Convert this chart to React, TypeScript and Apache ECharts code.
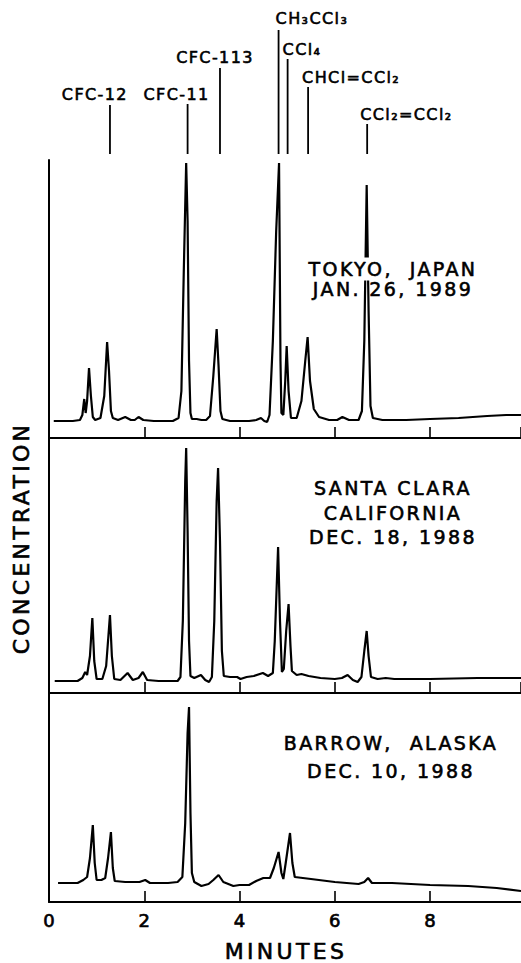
import React, { useEffect, useRef } from "react";
import * as echarts from "echarts";

// ---------- data ----------
const compoundNames = ["CFC-12", "CFC-11", "CFC-113", "CH₃CCl₃", "CCl₄", "CHCl=CCl₂", "CCl₂=CCl₂"];
const compoundTimes = [1.28, 2.91, 3.59, 4.82, 5.01, 5.44, 6.68];

const tokyoLabel = ["TOKYO,  JAPAN", "JAN. 26, 1989"];
const santaClaraLabel = ["SANTA CLARA", "CALIFORNIA", "DEC. 18, 1988"];
const barrowLabel = ["BARROW,  ALASKA", "DEC. 10, 1988"];

const xTitle = "MINUTES";
const yTitle = "CONCENTRATION";
const xMin = 0;
const xMax = 9.91;
const xTickStep = 2;

// [minutes, signal] (signal in arbitrary units above the baseline)
const tokyoTrace: [number, number][] = [
  [0.1, 0], [0.5, 0], [0.65, 1], [0.7, 6], [0.74, 22], [0.77, 8], [0.8, 20], [0.84, 53], [0.88, 25],
  [0.92, 4], [0.97, 1], [1.08, 3], [1.16, 25], [1.22, 79], [1.26, 50], [1.3, 10], [1.34, 3], [1.45, 1],
  [1.6, 4], [1.72, 1], [1.8, 1], [1.88, 4], [1.98, 1], [2.2, 0], [2.6, 0], [2.72, 3], [2.78, 30],
  [2.83, 150], [2.88, 258], [2.91, 200], [2.94, 60], [2.97, 8], [3.0, 2], [3.1, 2], [3.2, 1], [3.3, 1],
  [3.38, 5], [3.45, 45], [3.52, 92], [3.56, 55], [3.6, 10], [3.64, 2], [3.8, 0], [4.2, 0], [4.35, 1],
  [4.45, 3], [4.52, 0], [4.58, -1], [4.63, 6], [4.7, 80], [4.77, 190], [4.83, 258], [4.86, 60],
  [4.88, 8], [4.92, 6], [4.96, 40], [4.99, 75], [5.03, 30], [5.08, 3], [5.2, 3], [5.3, 20], [5.38, 60],
  [5.43, 84], [5.48, 40], [5.56, 12], [5.67, 4], [5.88, 1], [6.05, 1], [6.16, 4], [6.3, 1], [6.5, 1],
  [6.57, 10], [6.62, 80], [6.67, 236], [6.71, 110], [6.75, 15], [6.8, 3], [7.0, 1], [7.5, 1], [8.0, 2],
  [8.6, 3], [9.2, 5], [9.6, 6], [9.91, 6],
];

const santaClaraTrace: [number, number][] = [
  [0.12, 0], [0.6, 0], [0.7, 3], [0.76, 9], [0.8, 6], [0.86, 25], [0.91, 63], [0.95, 20], [1.0, 2],
  [1.12, 2], [1.2, 15], [1.28, 66], [1.32, 25], [1.37, 2], [1.5, 1], [1.65, 8], [1.76, 1], [1.88, 3],
  [1.97, 9], [2.06, 1], [2.3, 0], [2.7, 0], [2.76, 4], [2.81, 60], [2.86, 200], [2.88, 233], [2.91, 150],
  [2.94, 40], [2.97, 5], [3.05, 3], [3.19, 6], [3.28, 1], [3.36, -1], [3.42, 4], [3.47, 60], [3.52, 180],
  [3.55, 213], [3.59, 140], [3.63, 30], [3.67, 5], [3.8, 4], [3.95, 4], [4.02, 2], [4.15, 4], [4.3, 5],
  [4.49, 8], [4.6, 5], [4.7, 8], [4.74, 40], [4.81, 134], [4.85, 60], [4.89, 9], [4.93, 12], [4.98, 50],
  [5.03, 77], [5.07, 35], [5.1, 10], [5.2, 6], [5.3, 7], [5.45, 5], [5.7, 3], [6.0, 2], [6.15, 3],
  [6.27, 6], [6.38, 1], [6.48, -1], [6.56, 4], [6.62, 30], [6.67, 50], [6.71, 25], [6.76, 4], [6.9, 2],
  [7.07, 3], [7.25, 2], [8.0, 2], [9.0, 3], [9.91, 3],
];

const barrowTrace: [number, number][] = [
  [0.19, 0], [0.6, 0], [0.72, 3], [0.8, 6], [0.86, 25], [0.92, 58], [0.96, 20], [1.0, 3], [1.1, 3],
  [1.18, 5], [1.24, 25], [1.3, 51], [1.34, 15], [1.38, 2], [1.6, 1], [1.9, 1], [2.02, 3], [2.12, 0],
  [2.5, 0], [2.7, 1], [2.8, 6], [2.86, 60], [2.91, 150], [2.94, 176], [2.97, 70], [3.0, 10], [3.05, 1],
  [3.2, -3], [3.35, -1], [3.45, 3], [3.56, 8], [3.66, 1], [3.87, -3], [4.0, -2], [4.2, -2], [4.35, 2],
  [4.5, 5], [4.64, 5], [4.72, 15], [4.82, 31], [4.88, 10], [4.92, 4], [4.97, 20], [5.06, 50], [5.11, 20],
  [5.16, 6], [5.5, 4], [6.0, 1], [6.5, -1], [6.62, 1], [6.7, 5], [6.78, 0], [7.2, 0], [8.0, -2],
  [8.8, -3], [9.4, -5], [9.91, -8],
];

const traces = [tokyoTrace, santaClaraTrace, barrowTrace];
const panelLabels = [tokyoLabel, santaClaraLabel, barrowLabel];

// ---------- layout ----------
const W = 521;
const H = 963;
const FONT = "'DejaVu Sans', 'Liberation Sans', sans-serif";
const panels = [
  { top: 160, height: 278, yMin: -17, yMax: 261 },
  { top: 438, height: 255, yMin: -12, yMax: 243 },
  { top: 693, height: 209, yMin: -19, yMax: 190 },
];
const leaderTops = [105, 104, 68, 30, 59, 87, 124];
const leaderBottom = 154;
const compoundTextPlace = [
  { dx: 18, y: 94, align: "right" },
  { dx: 22, y: 94, align: "right" },
  { dx: -5, y: 57, align: "center" },
  { dx: -3, y: 18, align: "left" },
  { dx: -5, y: 49, align: "left" },
  { dx: -6, y: 77, align: "left" },
  { dx: -7, y: 114, align: "left" },
];
const panelLabelPlace = [
  { x: 393, ys: [269, 289] },
  { x: 393, ys: [488, 513, 537] },
  { x: 391, ys: [743, 771] },
];

const css = `
.chromchart text[style*="22px"]{letter-spacing:3.3px}
.chromchart text[style*="19px"]{letter-spacing:2.4px}
.chromchart text[style*="16px"]{letter-spacing:1.4px}
`;

function txt(text: string, x: number, y: number, size: number, align: string, extra: any = {}) {
  const { style: extraStyle, ...rest } = extra;
  return {
    type: "text",
    x,
    y,
    z: 100,
    silent: true,
    ...rest,
    style: {
      text,
      fill: "#000",
      fontSize: size,
      fontFamily: FONT,
      fontWeight: "normal",
      stroke: "#000",
      lineWidth: 0.6,
      align,
      textAlign: align,
      verticalAlign: "middle",
      textVerticalAlign: "middle",
      ...(extraStyle || {}),
    },
  };
}

export default function App() {
  const ref = useRef<HTMLDivElement>(null);

  useEffect(() => {
    document.body.style.margin = "0";
    if (!ref.current) return;
    const chart = echarts.init(ref.current, null, { renderer: "svg" });

    const grid = panels.map((p) => ({ left: 49, right: 0, top: p.top, height: p.height }));
    const xAxis = panels.map((_, i) => ({
      type: "value",
      gridIndex: i,
      min: xMin,
      max: xMax,
      interval: xTickStep,
      axisLine: { show: true, onZero: false, lineStyle: { color: "#000", width: 2 } },
      axisTick: { show: true, inside: true, length: 11, lineStyle: { color: "#000", width: 1.6 } },
      axisLabel: {
        show: i === 2,
        showMaxLabel: false,
        color: "#000",
        fontSize: 18,
        fontFamily: FONT,
        textBorderColor: "#000",
        textBorderWidth: 0.7,
        margin: 9,
      },
      splitLine: { show: false },
    }));
    const yAxis = panels.map((p, i) => ({
      type: "value",
      gridIndex: i,
      min: p.yMin,
      max: p.yMax,
      axisLine: { show: true, onZero: false, lineStyle: { color: "#000", width: 2 } },
      axisTick: { show: false },
      axisLabel: { show: false },
      splitLine: { show: false },
    }));
    const series = traces.map((t, i) => ({
      type: "line",
      xAxisIndex: i,
      yAxisIndex: i,
      data: t,
      symbol: "none",
      showSymbol: false,
      silent: true,
      clip: true,
      lineStyle: { color: "#000", width: 2.2 },
    }));

    chart.setOption({ animation: false, backgroundColor: "#fff", grid, xAxis, yAxis, series });

    const graphic: any[] = [];
    compoundTimes.forEach((t, i) => {
      const px = chart.convertToPixel({ xAxisIndex: 0 }, t) as number;
      graphic.push({
        type: "line",
        z: 100,
        silent: true,
        shape: { x1: px, y1: leaderTops[i], x2: px, y2: leaderBottom },
        style: { stroke: "#000", lineWidth: 1.8 },
      });
      const pl = compoundTextPlace[i];
      graphic.push(txt(compoundNames[i], px + pl.dx, pl.y, 16, pl.align));
    });
    panelLabels.forEach((lines, i) => {
      const pl = panelLabelPlace[i];
      lines.forEach((line, j) => {
        const extra =
          i === 0 && j === 0 ? { style: { backgroundColor: "#fff", padding: [2, 2] } } : {};
        graphic.push(txt(line, pl.x, pl.ys[j], 19, "center", extra));
      });
    });
    graphic.push(txt(xTitle, 286, 951, 22, "center"));
    graphic.push(txt(yTitle, 21, 538, 22, "center", { rotation: Math.PI / 2 }));

    chart.setOption({ graphic });

    return () => chart.dispose();
  }, []);

  return (
    <div>
      <style>{css}</style>
      <div ref={ref} className="chromchart" style={{ width: W, height: H }} />
    </div>
  );
}
